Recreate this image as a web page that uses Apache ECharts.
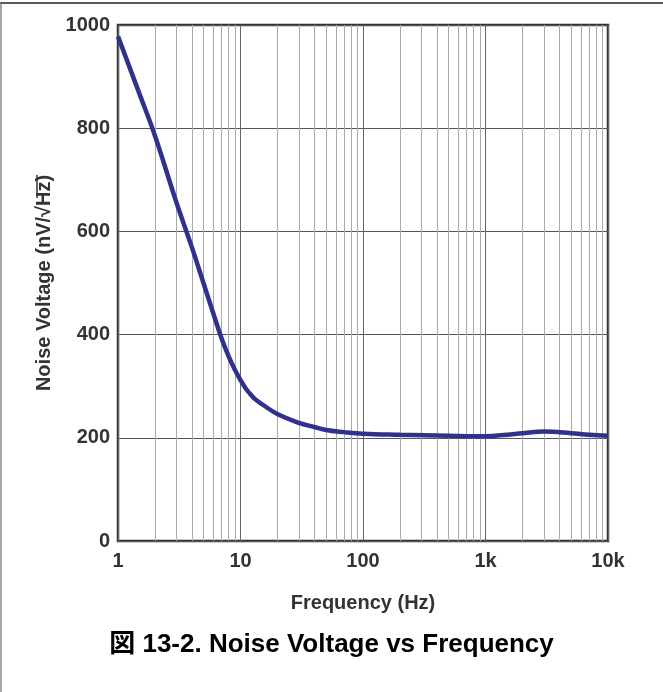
<!DOCTYPE html>
<html>
<head>
<meta charset="utf-8">
<script src="https://cdn.jsdelivr.net/npm/echarts@6/dist/echarts.min.js"></script>
<style>
  html, body { margin: 0; padding: 0; background: #fff; }
  #chart { width: 663px; height: 692px; }
</style>
</head>
<body>
<div id="chart"></div>
<script>
// frequency (Hz) and noise voltage (nV/rtHz)
const freqs = [1, 1.5, 2, 3, 4, 5, 6, 7, 8, 9, 10, 11, 12, 13, 15, 20, 30, 40, 50, 70, 100, 200, 500, 800, 1000, 1500, 2000, 3000, 5000, 7000, 10000]
const noise = [978, 866, 786, 656, 570, 499, 441, 393, 358, 332, 312, 296, 285, 276, 265, 246, 229, 221, 215, 211, 208, 206, 204, 203, 203, 206, 209, 212, 209, 206, 204]

// minor vertical grid lines (2..9 of each decade)
const minorFreqs = []
for (const d of [1, 10, 100, 1000]) {
  for (let k = 2; k <= 9; k++) minorFreqs.push(k * d)
}
const yTicks = [0, 200, 400, 600, 800, 1000]

const chart = echarts.init(document.getElementById('chart'))
const font = 'Liberation Sans, Arial, Helvetica, sans-serif'

const option = {
  animation: false,
  title: {
    text: '図 13-2. Noise Voltage vs Frequency',
    left: 'center',
    top: 627,
    textStyle: {
      fontFamily: font + ', Noto Sans CJK JP',
      fontSize: 26,
      fontWeight: 'bold',
      color: '#000'
    }
  },
  graphic: [
    // frame of the figure
    { type: 'line', shape: { x1: 0, y1: 3, x2: 663, y2: 3 }, style: { stroke: '#222', lineWidth: 1.5 } },
    { type: 'line', shape: { x1: 1, y1: 3, x2: 1, y2: 692 }, style: { stroke: '#888', lineWidth: 1.5 } },
    // vinculum over "Hz" in the y axis name
    { type: 'line', shape: { x1: 37, y1: 175, x2: 37, y2: 198 }, style: { stroke: '#333', lineWidth: 1.5 } }
  ],
  grid: {
    left: 118,
    top: 25,
    right: 55,
    bottom: 151,
    show: true,
    borderColor: '#333',
    borderWidth: 2.5,
    backgroundColor: 'transparent'
  },
  xAxis: {
    type: 'log',
    logBase: 10,
    min: 1,
    max: 10000,
    name: 'Frequency (Hz)',
    nameLocation: 'middle',
    nameGap: 52,
    nameTextStyle: { fontFamily: font, fontSize: 20, fontWeight: 'bold', color: '#333' },
    axisLine: { show: false },
    axisTick: { show: false },
    axisLabel: {
      margin: 10,
      fontFamily: font,
      fontSize: 20,
      fontWeight: 'bold',
      color: '#333',
      formatter: v => (v >= 1000 ? v / 1000 + 'k' : String(v))
    },
    splitLine: { show: true, lineStyle: { color: '#666', width: 1 } }
  },
  yAxis: {
    type: 'value',
    min: yTicks[0],
    max: yTicks[yTicks.length - 1],
    interval: 200,
    name: 'Noise Voltage (nV/√Hz)',
    nameLocation: 'middle',
    nameGap: 63,
    nameTextStyle: { fontFamily: font, fontSize: 20, fontWeight: 'bold', color: '#333' },
    axisLine: { show: false },
    axisTick: { show: false },
    axisLabel: {
      margin: 8,
      fontFamily: font,
      fontSize: 20,
      fontWeight: 'bold',
      color: '#333',
      formatter: v => String(v)
    },
    splitLine: { show: true, lineStyle: { color: '#555', width: 1 } }
  },
  series: [
    {
      type: 'line',
      data: freqs.map((f, i) => [f, noise[i]]),
      smooth: 0.4,
      showSymbol: false,
      lineStyle: { color: '#2e3192', width: 4.5 },
      markLine: {
        silent: true,
        z: 1,
        symbol: 'none',
        label: { show: false },
        lineStyle: { color: '#aaa', width: 1, type: 'solid' },
        data: minorFreqs.map(v => ({ xAxis: v }))
      }
    }
  ]
}

chart.setOption(option)
</script>
</body>
</html>
